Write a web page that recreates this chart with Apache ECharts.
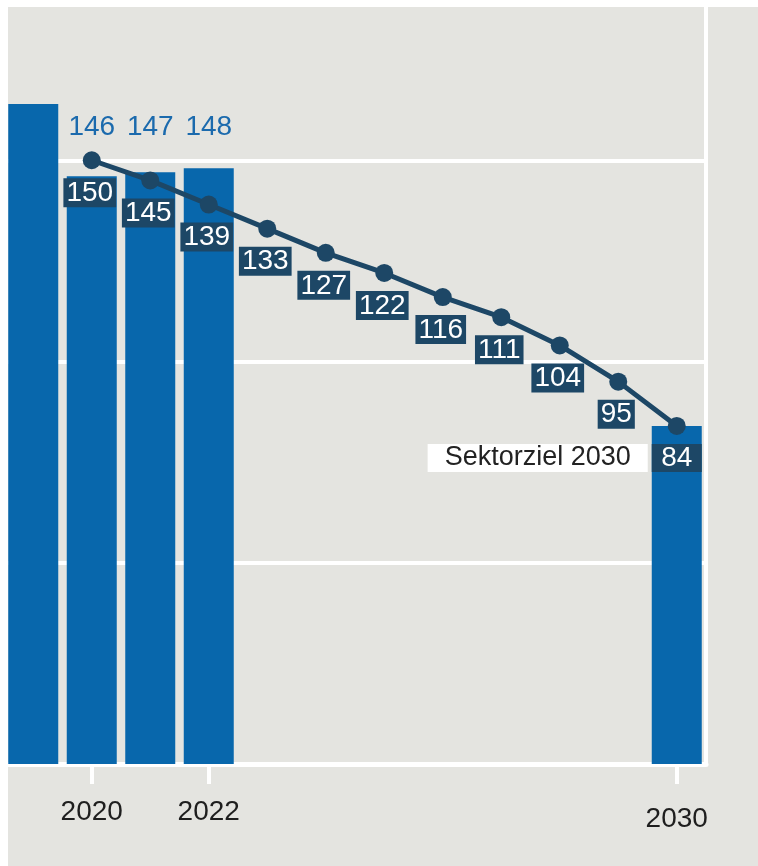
<!DOCTYPE html>
<html>
<head>
<meta charset="utf-8">
<script src="https://cdn.jsdelivr.net/npm/echarts@6/dist/echarts.min.js"></script>
<style>
  html, body { margin: 0; padding: 0; background: #ffffff; }
  /* visible frame; the chart canvas is larger and cropped by it */
  #frame { position: absolute; left: 8px; top: 7px; width: 750px; height: 859px; overflow: hidden; }
  #chart { position: absolute; left: -40px; top: -60px; width: 790px; height: 919px; }
</style>
</head>
<body>
<div id="frame"><div id="chart"></div></div>
<script>
// Years on the category axis
const years = ['2019', '2020', '2021', '2022', '2023', '2024', '2025', '2026', '2027', '2028', '2029', '2030'];
// Emissions (bars) and the 2030 sector target
const emissions = [164, 146, 147, 148, null, null, null, null, null, null, null, 84];
// Permitted annual emissions on the path to the target (line)
const pathway = [null, 150, 145, 139, 133, 127, 122, 116, 111, 104, 95, 84];
// Bars that carry a value label above them
const labelledBarYears = ['2020', '2021', '2022'];
// Years that get a tick and a label on the x axis
const tickYears = ['2020', '2022', '2030'];
const targetYear = '2030';
const targetText = 'Sektorziel 2030';

const BG = '#e4e4e0';
const BAR = '#0867ac';
const NAVY = '#1d4766';
const BLUE_TEXT = '#1b6aad';
const FONT = "'Liberation Sans', Arial, sans-serif";

const CHART_H = 919;
const GRID = { left: 36, right: 52, top: 12, bottom: 102 };
const Y_MAX = 200;
const pxPerUnit = (CHART_H - GRID.top - GRID.bottom) / Y_MAX;
// value level at which the bar labels sit (all on one line)
const BAR_LABEL_LEVEL = 158.3;
const LABEL_LH = 29;
const LABEL_FS = 28;
const POINT_LABEL_GAP = 9;

const barData = emissions.map((v, i) => {
  const show = v != null && labelledBarYears.includes(years[i]);
  return {
    value: v,
    label: show ? {
      show: true,
      position: 'top',
      distance: (BAR_LABEL_LEVEL - v) * pxPerUnit - LABEL_LH / 2
    } : { show: false }
  };
});

const lineData = pathway.map((v, i) => {
  if (years[i] !== targetYear) return v;
  return {
    value: v,
    label: {
      show: true,
      position: 'bottom',
      distance: POINT_LABEL_GAP,
      align: 'right',
      offset: [25, 0],
      backgroundColor: 'transparent',
      padding: 0,
      formatter: p => '{t|' + targetText + '}{g| }{v|' + p.value + '}',
      rich: {
        t: { backgroundColor: '#ffffff', color: '#222222', fontSize: 27, fontFamily: FONT,
             padding: [0, 17], height: LABEL_LH - 1, lineHeight: LABEL_LH - 1 },
        g: { width: 4, height: LABEL_LH - 1, lineHeight: LABEL_LH - 1, fontSize: 10 },
        v: { backgroundColor: NAVY, color: '#ffffff', fontSize: LABEL_FS, fontFamily: FONT,
             width: 50, align: 'center', height: LABEL_LH - 1, lineHeight: LABEL_LH - 1 }
      }
    }
  };
});

const chart = echarts.init(document.getElementById('chart'), null, { renderer: 'canvas' });
chart.setOption({
  animation: false,
  backgroundColor: BG,
  grid: {
    left: GRID.left, right: GRID.right, top: GRID.top, bottom: GRID.bottom,
    show: true, borderColor: '#ffffff', borderWidth: 4, backgroundColor: 'transparent'
  },
  xAxis: {
    type: 'category',
    data: years,
    boundaryGap: true,
    axisLine: { show: true, lineStyle: { color: '#ffffff', width: 5 } },
    axisTick: {
      show: true,
      alignWithLabel: true,
      length: 20,
      interval: (idx, val) => tickYears.includes(val),
      lineStyle: { color: '#ffffff', width: 4 }
    },
    axisLabel: {
      interval: (idx, val) => tickYears.includes(val),
      margin: 34,
      color: '#1e1e1e',
      fontSize: 28,
      fontFamily: FONT,
      formatter: val => val === targetYear ? '{low|' + val + '}' : '{n|' + val + '}',
      rich: {
        n: { fontSize: 28, fontFamily: FONT, color: '#1e1e1e' },
        low: { fontSize: 28, fontFamily: FONT, color: '#1e1e1e', padding: [7, 0, 0, 0] }
      }
    },
    splitLine: { show: false }
  },
  yAxis: {
    type: 'value',
    min: 0,
    max: Y_MAX,
    interval: 50,
    axisLine: { show: false },
    axisTick: { show: false },
    axisLabel: { show: false },
    splitLine: { show: true, lineStyle: { color: '#ffffff', width: 4 } }
  },
  series: [
    {
      type: 'bar',
      data: barData,
      barWidth: 50,
      itemStyle: { color: BAR },
      label: {
        color: BLUE_TEXT,
        fontSize: LABEL_FS,
        fontFamily: FONT,
        lineHeight: LABEL_LH
      },
      z: 2
    },
    {
      type: 'line',
      data: lineData,
      connectNulls: false,
      symbol: 'circle',
      symbolSize: 18,
      lineStyle: { color: NAVY, width: 5 },
      itemStyle: { color: NAVY },
      label: {
        show: true,
        position: 'bottom',
        distance: POINT_LABEL_GAP,
        offset: [-2, 0],
        color: '#ffffff',
        backgroundColor: NAVY,
        fontSize: LABEL_FS,
        fontFamily: FONT,
        lineHeight: LABEL_LH - 1,
        padding: [1, 3, 0, 3]
      },
      z: 3
    }
  ]
});
</script>
</body>
</html>
